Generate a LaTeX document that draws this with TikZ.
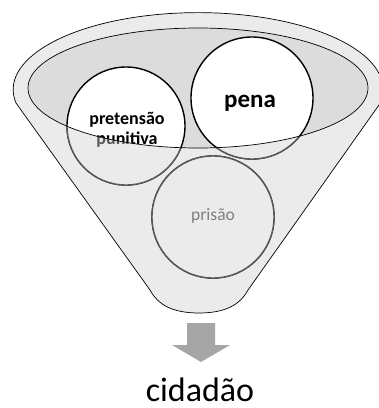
\documentclass[tikz,border=0pt]{standalone}
\usepackage{fontspec}
\setmainfont{Carlito}
\definecolor{bandgray}{HTML}{EBEBEB}
\definecolor{innergray}{HTML}{DCDCDC}
\definecolor{lowgray}{HTML}{595959}
\definecolor{textgray}{HTML}{7F7F7F}
\definecolor{arrowgray}{HTML}{A6A6A6}
\tikzset{
  ball/.style={circle,draw=black,line width=1.4pt,fill=white,minimum size=#1,inner sep=0pt,align=center},
  lowball/.style={circle,draw=lowgray,line width=1.4pt,fill=bandgray,minimum size=#1,inner sep=0pt,align=center,text=textgray}
}
\begin{document}
\begin{tikzpicture}[x=1pt,y=-1pt]
  \useasboundingbox (0,0) rectangle (379,408);
  % funnel body
  \draw[fill=bandgray,line width=0.7pt] (16,103)
    arc[start angle=170,end angle=370,x radius=185,y radius=77]
    -- (248,290) .. controls (240,305) and (225,313) .. (199,313)
    .. controls (173,313) and (158,305) .. (150,290) -- cycle;
  \fill[innergray] (198,88) ellipse[x radius=170,y radius=60];
  % balls, upper part
  \node[ball=118pt] (pret) at (126,126) {};
  \node[ball=122pt] (pena) at (252,98) {};
  \node[ball=122pt] (pris) at (213,217) {};
  \node[font=\bfseries\fontsize{18}{20}\selectfont,align=center] (pretT) at (127,130) {pretensão\\punitiva};
  \node[font=\bfseries\fontsize{25}{26}\selectfont,anchor=base] (penaT) at (250,107) {pena};
  % balls, part below the rim
  \begin{scope}
    \clip (0,88) -- (28,88) arc[start angle=180,end angle=0,x radius=170,y radius=60]
      -- (379,88) -- (379,408) -- (0,408) -- cycle;
    \node[lowball=118pt] (pretB) at (126,126) {};
    \node[lowball=122pt] (penaB) at (252,98) {};
    \node[lowball=122pt] (prisB) at (213,217) {};
    \node[font=\bfseries\fontsize{18}{20}\selectfont,align=center,text=lowgray] (pretBT) at (127,130) {pretensão\\punitiva};
  \end{scope}
  \node[font=\fontsize{17.5}{18}\selectfont,text=textgray,anchor=base] (prisT) at (213,220) {prisão};
  \draw[line width=0.7pt] (198,88) ellipse[x radius=170,y radius=60];
  % arrow down
  \fill[arrowgray] (187,323) -- (215,323) -- (215,345) -- (230,345)
    -- (201,362) -- (172,345) -- (187,345) -- cycle;
  \node[anchor=base,inner sep=0pt,font=\fontsize{34}{36}\selectfont] (cid) at (200,401) {cidadão};
\end{tikzpicture}
\end{document}
